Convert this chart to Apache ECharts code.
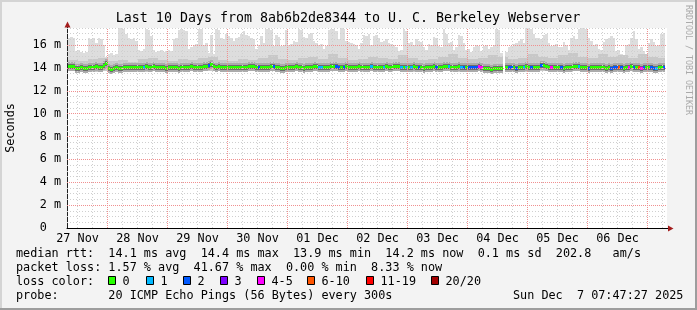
<!DOCTYPE html>
<html><head><meta charset="utf-8">
<script src="https://cdn.jsdelivr.net/npm/echarts@6/dist/echarts.min.js"></script>
<style>html,body{margin:0;padding:0;background:#f3f3f3}#c{width:697px;height:310px}</style>
</head><body><div id="c"></div>
<script>
// ---------- data ----------
const titleText = 'Last 10 Days from 8ab6b2de8344 to U. C. Berkeley Webserver';
const dayLabels = ['27 Nov','28 Nov','29 Nov','30 Nov','01 Dec','02 Dec','03 Dec','04 Dec','05 Dec','06 Dec'];
const dayLabelHours = [12,36,60,84,108,132,156,180,204,228]; // hours since 27 Nov 00:00 (noon of each day)
const yTickValues = [0,2,4,6,8,10,12,14,16];
const rangeStartHour = 7 + 47/60 + 27/3600; // 27 Nov 07:47:27
const rangeHours = 240;                      // 10 days
const firstBinHour = 8;                      // hourly bin i starts at 27 Nov 08:00 + i h

// top of the smoke (max ping, ms) per hourly bin
const smokeMax = [
16.6,16.7,16.6,15.5,15.6,15.4,15.3,15.4,16.6,16.5,16.6,16.2,
16.6,16.5,16.0,15.0,15.2,15.3,15.1,15.2,17.5,17.5,17.4,17.0,
16.6,16.5,16.6,16.4,15.6,15.5,15.7,17.4,17.3,16.8,15.6,15.4,
15.5,15.6,15.4,15.5,15.6,15.5,16.5,16.6,17.3,17.4,17.3,17.2,
15.7,15.8,16.0,16.1,17.4,17.4,16.0,16.2,15.3,16.9,15.2,17.4,
17.3,16.6,16.5,17.0,16.8,16.6,16.4,16.6,16.7,17.0,17.2,16.9,
16.8,16.6,16.5,15.7,16.0,16.8,16.2,17.4,17.5,17.3,15.9,16.9,
16.7,15.9,16.0,17.3,16.0,16.1,16.4,16.3,17.4,17.3,16.7,16.6,
17.0,17.1,16.4,16.2,16.0,16.1,15.7,15.9,17.3,17.4,17.4,17.2,
16.5,17.5,17.4,16.4,16.3,16.2,16.1,16.0,15.7,16.2,16.9,16.8,
17.0,16.0,16.8,16.9,16.6,16.3,16.4,16.5,16.2,16.1,16.0,15.8,
15.5,15.6,17.4,17.2,16.2,16.3,16.0,16.5,16.4,16.3,15.8,15.6,
16.1,16.0,16.7,16.6,15.9,15.8,17.4,17.0,16.2,16.3,15.6,15.8,
16.9,16.8,16.2,15.6,15.7,15.4,15.8,16.0,15.9,15.5,15.9,16.0,
15.7,15.8,16.0,17.4,17.3,15.3,null,15.4,15.8,15.9,16.1,16.2,
16.4,16.5,16.2,17.5,17.5,17.4,17.0,16.6,16.6,16.5,16.9,17.0,
16.2,15.9,16.0,16.1,15.8,15.8,16.3,16.0,15.6,16.6,16.8,16.5,
17.4,17.5,17.5,17.4,16.6,16.4,16.0,16.1,15.7,15.6,16.3,16.5,
16.6,16.8,16.6,15.5,15.6,15.2,15.1,16.0,16.1,16.6,17.2,16.5,
15.7,15.8,15.5,15.2,16.2,16.5,16.3,15.9,16.0,17.0,17.1
];
// upper edge of the denser smoke, per 4-hour block
const smokeMid4h = [
14.7,14.6,14.8,14.9,14.6,14.7,14.5,14.8,14.9,14.7,14.6,14.8,
14.7,14.9,15.0,14.7,14.6,14.8,14.7,14.9,15.1,14.8,14.7,14.9,
15.0,14.8,15.2,14.9,14.7,14.8,15.0,14.9,14.8,15.1,14.9,14.7,
14.8,15.0,15.2,14.9,14.8,14.9,15.1,15.0,14.8,14.9,15.2,15.0,
14.9,15.1,15.3,15.0,14.9,15.2,15.0,15.1,14.9,15.2,15.0,14.9
];
// bottom of the smoke (min ping), per 4-hour block
const smokeLow4h = [
13.70,13.70,13.65,13.70,13.75,13.70,13.70,13.65,13.70,13.70,13.75,13.70,
13.70,13.75,13.70,13.70,13.65,13.70,13.75,13.70,13.70,13.70,13.75,13.70,
13.70,13.65,13.70,13.75,13.70,13.70,13.75,13.70,13.70,13.70,13.65,13.70,
13.75,13.70,13.70,13.65,13.65,13.70,13.70,13.75,13.65,13.65,13.70,13.70,
13.70,13.65,13.70,13.70,13.65,13.70,13.65,13.70,13.70,13.65,13.70,13.70
];
// median rtt (ms) per hourly bin
const medianRtt = [
14.15,14.15,14.15,14.0,14.0,14.05,14.0,14.0,14.05,14.1,14.1,14.15,
14.1,14.1,14.3,14.4,14.0,13.95,14.0,14.05,14.0,14.0,14.05,14.1,
14.05,14.1,14.1,14.05,14.05,14.1,14.1,14.15,14.1,14.1,14.15,14.1,
14.1,14.05,14.05,14.0,14.05,14.1,14.1,14.05,14.0,14.05,14.1,14.1,
14.1,14.15,14.1,14.05,14.05,14.1,14.15,14.2,14.3,14.35,14.2,14.1,
14.15,14.1,14.1,14.05,14.05,14.1,14.1,14.1,14.05,14.05,14.1,14.1,
14.15,14.2,14.15,14.1,14.1,14.1,14.1,14.05,14.1,14.15,14.15,14.1,
14.05,14.0,14.0,14.05,14.1,14.1,14.1,14.15,14.1,14.05,14.0,14.05,
14.1,14.1,14.15,14.15,14.1,14.1,14.05,14.05,14.1,14.15,14.2,14.15,
14.1,14.1,14.1,14.15,14.1,14.05,14.1,14.1,14.15,14.1,14.1,14.05,
14.1,14.15,14.1,14.1,14.05,14.05,14.1,14.15,14.1,14.1,14.15,14.2,
14.15,14.1,14.1,14.05,14.1,14.1,14.15,14.1,14.05,14.05,14.0,14.05,
14.1,14.1,14.15,14.1,14.1,14.05,14.15,14.2,14.15,14.1,14.1,14.1,
14.15,14.1,14.1,14.1,14.05,14.05,14.1,14.1,14.15,14.1,14.0,14.0,
14.0,13.95,14.0,14.0,14.0,14.0,null,14.05,14.1,14.1,14.05,14.0,
14.05,14.1,14.1,14.15,14.1,14.05,14.05,14.1,14.1,14.3,14.3,14.15,
14.1,14.05,14.1,14.1,14.1,14.05,14.0,14.05,14.1,14.1,14.15,14.2,
14.15,14.1,14.1,14.05,14.0,14.05,14.05,14.1,14.1,14.05,14.05,14.0,
14.05,14.0,14.05,14.1,14.1,14.05,14.0,14.05,14.1,14.15,14.1,14.1,
14.05,14.0,14.05,14.1,14.1,14.05,14.0,14.0,14.05,14.05,14.1
];
// loss colour class per hourly bin (index into lossLabels)
const lossClass = [
0,0,0,0,0,0,0,0,0,0,0,0,
0,0,0,0,0,0,0,0,0,0,0,0,
0,0,0,0,0,0,1,0,0,0,0,0,
0,0,0,0,0,0,0,0,0,0,0,0,
0,0,0,0,0,0,0,0,2,0,0,0,
0,0,0,0,0,0,0,0,0,0,0,0,
0,0,0,0,2,0,0,0,0,0,2,0,
0,0,0,0,0,0,0,0,0,0,0,0,
0,0,0,0,1,1,0,0,0,0,0,2,
2,0,2,0,0,0,0,0,0,0,0,0,
0,1,0,0,0,0,1,0,0,0,0,0,
0,1,0,1,0,1,0,0,2,0,0,0,
0,0,0,2,0,0,0,0,1,0,0,0,
0,1,2,0,2,2,2,2,4,4,0,0,
0,0,0,0,0,0,0,0,2,2,0,2,
0,0,1,0,0,2,0,0,0,2,0,0,
0,4,0,0,0,2,0,0,0,0,0,0,
1,0,0,0,2,0,0,0,0,0,0,0,
0,2,2,2,5,2,0,0,4,0,2,0,
5,4,2,0,0,2,2,1,0,0,2
];
const lossLabels = ['0','1','2','3','4-5','6-10','11-19','20/20'];
const lossColors = ['#26ff00','#00b8ff','#0059ff','#7e00ff','#ff00ff','#ff5500','#ff0000','#a10000'];

const statLine1 = 'median rtt:  14.1 ms avg  14.4 ms max  13.9 ms min  14.2 ms now  0.1 ms sd  202.8   am/s';
const statLine2 = 'packet loss: 1.57 % avg  41.67 % max  0.00 % min  8.33 % now';
const statLine3 = 'loss color:';
const statLine4 = 'probe:       20 ICMP Echo Pings (56 Bytes) every 300s';
const dateText = 'Sun Dec  7 07:47:27 2025';
const sideText = 'RRDTOOL / TOBI OETIKER';

// ---------- build ----------
const MONO = 'DejaVu Sans Mono';
const xMin = rangeStartHour, xMax = rangeStartHour + rangeHours;
const smokeData = [], medData = [];
smokeMax.forEach((mx, i) => {
  if (mx == null) return;
  const b = Math.floor(i / 4);
  smokeData.push([firstBinHour + i, smokeLow4h[b], smokeMid4h[b], mx]);
});
medianRtt.forEach((m, i) => {
  if (m == null) return;
  medData.push([firstBinHour + i, m, lossClass[i]]);
});

// grid lines (rrdtool style)
const gridLines = [];
for (let t = 6; t < xMax; t += 6) {
  if (t <= xMin) continue;
  const major = t % 24 === 0;
  gridLines.push({xAxis: t, lineStyle: {color: major ? '#f09090' : '#cfcfcf', type: major ? [1,1] : [1,2], width: 1}});
}
for (let v = 0.5; v <= 17.5; v += 0.5) {
  const major = v % 2 === 0;
  gridLines.push({yAxis: v, lineStyle: {color: major ? '#f09090' : '#cfcfcf', type: major ? [1,1] : [1,2], width: 1}});
}

function renderSmoke(params, api) {
  const t = api.value(0);
  const pLo = api.coord([t, api.value(1)]);
  const pMid = api.coord([t, api.value(2)]);
  const pHi = api.coord([t, api.value(3)]);
  const pEnd = api.coord([t + 1, api.value(1)]);
  const x0 = Math.round(pLo[0]), x1 = Math.round(pEnd[0]);
  const yLo = Math.round(pLo[1]), yMid = Math.round(pMid[1]), yHi = Math.round(pHi[1]);
  return {type: 'group', children: [
    {type: 'rect', shape: {x: x0, y: yHi, width: x1 - x0, height: yLo - yHi}, style: {fill: '#dddddd'}},
    {type: 'rect', shape: {x: x0, y: yMid, width: x1 - x0, height: yLo - yMid}, style: {fill: '#c8c8c8'}}
  ]};
}
function renderMedian(params, api) {
  const t = api.value(0);
  const p = api.coord([t, api.value(1)]);
  const pe = api.coord([t + 1, api.value(1)]);
  const x0 = Math.round(p[0]), x1 = Math.round(pe[0]), y = Math.round(p[1]);
  const w = x1 - x0;
  return {type: 'group', children: [
    {type: 'rect', shape: {x: x0, y: y - 4, width: w, height: 9}, style: {fill: '#ababab'}},
    {type: 'rect', shape: {x: x0, y: y - 2, width: w, height: 5}, style: {fill: '#6e6e6e'}},
    {type: 'rect', shape: {x: x0, y: y - 1, width: w, height: 3}, style: {fill: lossColors[api.value(2)]}}
  ]};
}

const graphics = [
  // frame
  {type: 'rect', shape: {x: 0, y: 0, width: 697, height: 2}, style: {fill: '#d4d4d4'}, silent: true},
  {type: 'rect', shape: {x: 0, y: 0, width: 2, height: 310}, style: {fill: '#d4d4d4'}, silent: true},
  {type: 'rect', shape: {x: 0, y: 308, width: 697, height: 2}, style: {fill: '#9d9d9d'}, silent: true},
  {type: 'rect', shape: {x: 695, y: 0, width: 2, height: 310}, style: {fill: '#9d9d9d'}, silent: true},
  // title
  {type: 'text', x: 348, y: 19, style: {text: titleText, font: '13.3px "' + MONO + '"', fill: '#000', align: 'center', verticalAlign: 'middle'}},
  // side text
  {type: 'text', x: 688, y: 60, rotation: -Math.PI / 2, style: {text: sideText, font: '8.3px "' + MONO + '"', fill: '#aaaaaa', align: 'center', verticalAlign: 'middle'}},
  // axis arrows
  {type: 'line', shape: {x1: 667, y1: 228.5, x2: 669, y2: 228.5}, style: {stroke: '#000', lineWidth: 1}},
  {type: 'polygon', shape: {points: [[668, 225.5], [673.5, 228.5], [668, 231.5]]}, style: {fill: '#a31d1d'}},
  {type: 'line', shape: {x1: 67.5, y1: 28, x2: 67.5, y2: 25}, style: {stroke: '#222', lineWidth: 1}},
  {type: 'polygon', shape: {points: [[64.5, 27.5], [67.5, 21.5], [70.5, 27.5]]}, style: {fill: '#a31d1d'}},
  // stats
  {type: 'text', x: 16, y: 254, style: {text: statLine1, font: '11.8px "' + MONO + '"', fill: '#000', verticalAlign: 'middle'}},
  {type: 'text', x: 16, y: 268, style: {text: statLine2, font: '11.8px "' + MONO + '"', fill: '#000', verticalAlign: 'middle'}},
  {type: 'text', x: 16, y: 282, style: {text: statLine3, font: '11.8px "' + MONO + '"', fill: '#000', verticalAlign: 'middle'}},
  {type: 'text', x: 16, y: 296, style: {text: statLine4, font: '11.8px "' + MONO + '"', fill: '#000', verticalAlign: 'middle'}},
  {type: 'text', x: 513, y: 296, style: {text: dateText, font: '11.8px "' + MONO + '"', fill: '#000', verticalAlign: 'middle'}}
];
const boxX = [108, 146, 183, 220, 257, 307, 366, 431];
lossLabels.forEach((lab, k) => {
  graphics.push({type: 'rect', shape: {x: boxX[k] + 0.5, y: 276.5, width: 7, height: 8}, style: {fill: lossColors[k], stroke: '#000', lineWidth: 1}});
  graphics.push({type: 'text', x: boxX[k] + 14.5, y: 282, style: {text: lab, font: '11.8px "' + MONO + '"', fill: '#000', verticalAlign: 'middle'}});
});

const chart = echarts.init(document.getElementById('c'), null, {renderer: 'canvas'});
chart.setOption({
  animation: false,
  backgroundColor: '#f3f3f3',
  grid: {left: 67, right: 30, top: 28, bottom: 82, show: true, backgroundColor: '#ffffff', borderWidth: 0,
         containLabel: false, outerBoundsMode: 'none'},
  xAxis: {
    type: 'value', min: xMin, max: xMax,
    axisLine: {show: true, onZero: false, lineStyle: {color: '#000', width: 1}},
    axisTick: {show: false},
    splitLine: {show: false},
    axisLabel: {
      customValues: dayLabelHours,
      formatter: v => dayLabels[Math.round((v - dayLabelHours[0]) / 24)],
      fontFamily: MONO, fontSize: 11.8, color: '#000', margin: 5
    }
  },
  yAxis: {
    type: 'value', min: 0, max: 17.5,
    name: 'Seconds', nameLocation: 'middle', nameGap: 50, nameRotate: 90,
    nameTextStyle: {fontFamily: MONO, fontSize: 11.8, color: '#000'},
    axisLine: {show: true, lineStyle: {color: '#222', width: 1}},
    axisTick: {show: false},
    splitLine: {show: false},
    axisLabel: {
      customValues: yTickValues,
      formatter: v => v === 0 ? '0  ' : v + ' m',
      fontFamily: MONO, fontSize: 11.8, color: '#000', margin: 6
    }
  },
  series: [
    {type: 'custom', name: 'smoke', coordinateSystem: 'cartesian2d', renderItem: renderSmoke,
     encode: {x: 0, y: [1, 2, 3]}, data: smokeData, z: 1, clip: true, silent: true},
    {type: 'line', name: 'grid', data: [[firstBinHour, 0]], showSymbol: false, symbol: 'none',
     lineStyle: {opacity: 0}, z: 2, silent: true,
     markLine: {silent: true, symbol: ['none', 'none'], animation: false, label: {show: false}, data: gridLines}},
    {type: 'custom', name: 'median', coordinateSystem: 'cartesian2d', renderItem: renderMedian,
     encode: {x: 0, y: 1}, data: medData, z: 3, clip: true, silent: true}
  ],
  graphic: graphics
});
</script></body></html>
